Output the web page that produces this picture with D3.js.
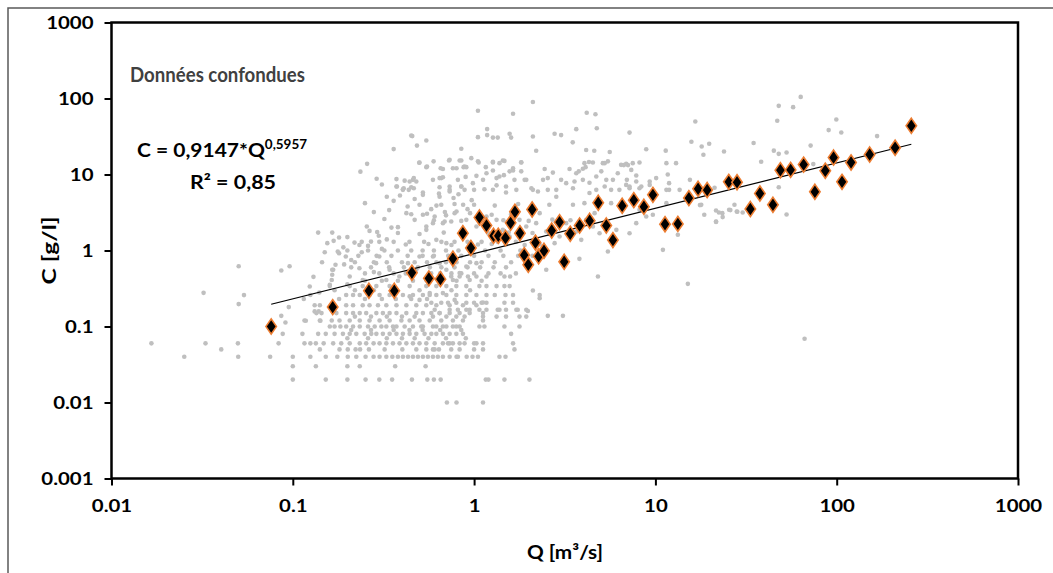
<!DOCTYPE html>
<html><head><meta charset="utf-8">
<script src="https://cdn.jsdelivr.net/npm/d3@7"></script>
<style>
body{margin:0;background:#fff;}
text{font-family:Lato,'Open Sans',sans-serif;font-weight:bold;}
</style>
</head><body>
<svg id="chart" width="1053" height="573"></svg>
<script>
// ---------- DATA ----------
const xTickValues = [0.01, 0.1, 1, 10, 100, 1000];
const xTickLabels = ["0.01", "0.1", "1", "10", "100", "1000"];
const yTickValues = [0.001, 0.01, 0.1, 1, 10, 100, 1000];
const yTickLabels = ["0.001", "0.01", "0.1", "1", "10", "100", "1000"];

const titleText = "Données confondues";
const equationMain = "C = 0,9147*Q";
const equationExp = "0,5957";
const r2Text = "R² = 0,85";
const xTitle = "Q [m³/s]";
const yTitle = "C [g/l]";

// Event data (diamonds)
const eventQ = [0.076,0.166,0.263,0.363,0.454,0.563,0.652,0.764,0.867,0.96,1.07,1.17,1.28,1.36,1.49,1.59,1.68,1.79,1.89,1.99,2.09,2.18,2.27,2.43,2.68,2.96,3.14,3.39,3.82,4.34,4.84,5.36,5.83,6.56,7.6,8.64,9.69,11.3,13.3,15.3,17.2,19.3,25.4,28.2,33.4,37.7,44.5,48.9,55.7,65.7,75.8,86.5,96.1,107,120,152,210,258];
const eventC = [0.10,0.18,0.295,0.295,0.51,0.43,0.42,0.78,1.69,1.08,2.72,2.13,1.56,1.56,1.46,2.31,3.23,1.69,0.87,0.65,3.46,1.27,0.84,0.99,1.83,2.36,0.71,1.66,2.13,2.46,4.24,2.13,1.37,3.87,4.6,3.76,5.4,2.22,2.24,4.89,6.48,6.24,8.0,7.9,3.51,5.62,3.99,11.4,11.5,13.5,5.92,11.2,16.7,8.0,14.4,18.3,22.5,43.7];

// Power-law trend line end points (C = 0.9147*Q^0.5957)
const trendQ = [0.076, 258];
const trendC = [0.196, 25.0];

// All measurements (grey) - rows of identical concentration
const greyRowC = [0.01,0.02,0.03,0.04,0.05,0.06,0.07,0.08,0.09,0.1];
const greyRowQ = [
  [0.708,0.80,1.12],
  [0.10,0.152,0.20,0.252,0.30,0.353,0.454,0.552,0.60,0.654,1.16,1.20,1.47,2.02],
  [0.10,0.134,0.20,0.234,0.367,0.54],
  [0.0252,0.05,0.075,0.10,0.125,0.152,0.176,0.201,0.224,0.252,0.279,0.301,0.328,0.354,0.38,0.405,0.432,0.46,0.49,0.522,0.556,0.593,0.631,0.673,0.733,0.80,0.814,0.91,0.98,1.05,1.38,1.49],
  [0.0403,0.141,0.181,0.201,0.222,0.235,0.263,0.321,0.402,0.48,0.545,0.593,0.606,0.64,0.748,0.832,1.0,1.12,1.67],
  [0.0166,0.033,0.0498,0.0835,0.116,0.125,0.134,0.148,0.167,0.185,0.206,0.234,0.254,0.279,0.301,0.328,0.357,0.388,0.423,0.46,0.5,0.545,0.606,0.673,0.718,0.733,0.764,0.832,0.886,1.0,1.03,1.12,1.64],
  [0.2,0.26,0.33,0.4,0.47,0.56,0.7,0.9],
  [0.088,0.113,0.138,0.152,0.17,0.189,0.206,0.224,0.249,0.271,0.289,0.314,0.342,0.373,0.405,0.441,0.48,0.533,0.581,0.619,0.673,0.733,0.798,0.868,1.6],
  [0.21,0.27,0.36,0.44,0.52,0.65,0.85],
  [0.16,0.17,0.183,0.197,0.215,0.234,0.26,0.283,0.308,0.328,0.357,0.373,0.414,0.46,0.511,0.522,0.593,0.619,0.673,0.703,0.764,0.798,0.832,1.07,1.14,1.47,1.78]
];

// All measurements (grey) - dense bands in the main cloud
const greyBandC = [0.12,0.135,0.15,0.166,0.19,0.205,0.23,0.26,0.3,0.34,0.4,0.455,0.5,0.6,0.7,0.85,1.0,1.3];
const greyBandQ = [
  [0.116,0.141,0.164,0.181,0.206,0.234,0.265,0.301,0.342,0.397,0.441,0.5,0.569,0.659,0.764,0.868,1.12],
  [0.22,0.27,0.33,0.4,0.47,0.593,0.703,0.798,0.886,1.12,1.33,1.5,1.78,1.94],
  [0.135,0.144,0.174,0.197,0.215,0.234,0.254,0.289,0.314,0.342,0.373,0.423,0.48,0.522,0.581,0.645,0.733,0.832,0.945,1.12],
  [0.606,0.733,0.814,0.906,1.07,1.17,1.35,1.5,1.74,1.94],
  [0.132,0.141,0.197,0.215,0.243,0.265,0.295,0.328,0.373,0.423,0.48,0.545,0.619,0.733,0.868,1.03],
  [0.581,0.659,0.718,0.798,0.906,1.0,1.1,1.17,1.47,1.64],
  [0.18,0.25,0.31,0.37,0.45,0.55],
  [0.197,0.215,0.234,0.265,0.301,0.342,0.405,0.46,0.522,0.569,0.619,0.703,0.798,0.906,1.03,1.17,1.3,1.49,1.64,2.3],
  [0.22,0.28,0.36,0.5,0.75,0.95],
  [0.16,0.206,0.243,0.289,0.342,0.441,0.545,0.619,0.703,0.798,0.906,1.07,1.17,1.33,1.47,1.57],
  [0.25,0.31,0.38,0.46,0.55,0.66,0.8,1.1],
  [0.748,0.832,0.925,1.03,1.17,1.47,1.58],
  [0.25,0.3,0.36,0.42,0.58,0.65,0.75,0.85,1.0,1.2,1.4,1.7],
  [0.21,0.27,0.34,0.41,0.49,0.57,0.66,0.78,0.92,1.08,1.28,1.5],
  [0.22,0.28,0.33,0.4,0.47,0.55,0.62,0.7,0.8,0.95,1.1,1.3,1.6,2.0],
  [0.23,0.29,0.35,0.43,0.52,0.6,0.72,0.85,1.0,1.2,1.45,1.75,2.1],
  [0.2,0.26,0.32,0.38,0.45,0.52,0.6,0.7,0.82,0.98,1.15,1.4,1.8,2.4],
  [0.24,0.3,0.36,0.44,0.53,0.66,0.78,0.92,1.1,1.35,1.7,2.2]
];

// All measurements (grey) - scattered points [Q, C]
const greyScatter = [
  [0.0322,0.277],[0.0503,0.62],[0.0503,0.197],[0.0538,0.259],[0.0864,0.546],[0.096,0.62],[0.0864,0.138],[0.0911,0.113],[0.095,0.18],[0.118,0.119],[0.124,0.336],[0.132,0.158],[0.139,0.158],[0.142,0.119],[0.16,0.354],[0.165,0.557],[0.165,0.48],[0.172,0.65],[0.18,0.92],
  [0.177,0.97],[0.196,0.834],[0.192,0.656],[0.167,0.557],[0.164,0.41],[0.206,0.455],[0.233,0.583],[0.243,0.41],[0.288,0.682],[0.3,0.834],[0.342,0.557],[0.328,0.41],[0.387,0.455],[0.432,0.682],[0.48,0.557],[0.5,0.834],[0.545,0.41],[0.593,0.834],[0.645,0.682],[0.703,0.557],[0.764,0.41],[0.832,0.505],[0.906,0.617],[0.945,0.41],[1.03,0.682],
  [2.5,0.557],[2.11,0.298],[2.3,0.236],[3.09,0.138],[2.55,0.138],[1.71,0.166],[1.98,0.16],[1.38,0.166],[1.12,0.207],[0.945,0.166],[0.781,0.224],[0.645,0.15],[0.673,0.275],[0.569,0.275],[0.5,0.224],[0.441,0.249],[4.82,0.455],[3.81,0.777],[15.1,0.364],[66.5,0.069],
  [0.13,0.45],[0.145,0.7],[0.15,0.95],[0.155,1.25],[0.19,1.1],[0.2,1.5],[0.21,0.75],[0.24,0.95],[0.26,1.15],[0.28,0.52],[0.31,1.05],[0.33,1.4],[0.14,0.28],[0.17,0.3],[0.2,0.36],[0.115,0.23],[0.125,0.26]
];
const greyUpper = [
  [0.138,1.72],[0.165,1.72],[0.18,1.48],[0.168,1.34],[0.219,1.27],[0.233,1.18],[0.256,2.07],[0.265,1.81],[0.292,1.75],[0.298,1.56],[0.27,1.31],[0.35,2.0],[0.38,2.03],[0.373,6.96],[0.409,6.6],[0.45,6.8],[0.48,8.1],[0.522,5.8],[0.47,4.75],[0.645,6.8],[0.733,5.98],[0.659,4.0],[0.85,6.96],[0.80,3.26],[0.748,2.41],[0.87,4.0],[0.522,2.95],[0.593,2.29],[0.688,2.41],[0.545,1.87],[0.619,1.38],[0.703,1.25],
  [0.423,3.1],[0.47,2.53],[0.545,2.07],[0.606,2.8],[0.673,2.29],[0.781,3.1],[0.906,2.53],[1.03,2.07],[1.17,2.8],[1.33,2.53],[1.44,1.87],[1.57,1.53],[1.78,2.53],[1.94,2.07],[2.2,2.29],[2.5,1.78],[2.78,1.25],[2.96,1.53],[3.22,2.29],[3.66,1.78],[3.9,1.38],[4.15,2.53],[4.52,2.07],[4.92,1.69],[5.47,0.97],[6.09,1.87],[7.2,1.69],[7.84,2.29],[9.68,2.95],[11,1.02],[13.3,1.61],
  [0.45,3.0],[0.55,3.05],[0.7,2.9],[0.95,3.1],[1.25,2.95],[1.6,3.0],[2.3,3.1],
  [0.5,4.0],[0.62,3.9],[0.78,4.1],[1.0,4.0],[1.3,3.9],[1.75,4.1],[2.6,4.0],
  [0.6,2.5],[0.85,2.45],[1.1,2.55],[1.45,2.5],[2.0,2.45],[2.7,2.55],[3.4,2.5],
  [0.38,1.7],[0.5,1.65],[0.68,1.72],[0.9,1.7],[1.2,1.68],[1.55,1.72],[2.1,1.7],[2.6,1.65],[3.3,1.72],
  [0.42,1.2],[0.56,1.22],[0.75,1.18],[1.05,1.2],[1.25,1.22],[1.5,1.2],[1.9,1.18],[2.3,1.2],
  [0.32,2.6],[0.34,3.4],[0.36,4.5],[0.39,5.3],[0.43,3.8],[0.58,3.5],[0.64,5.6],[0.69,3.2],[0.77,4.9],[0.82,5.5],[0.92,3.5],[0.97,4.6],[0.31,7.4],[0.33,5.1],[0.28,3.2],[0.25,4.2],
  [0.405,6.28],[0.46,8.5],[0.522,5.4],[0.593,8.5],[0.659,8.96],[0.733,6.96],[0.814,8.5],[0.886,6.28],[0.985,7.7],[1.12,8.5],[1.27,6.28],[1.38,9.4],[1.5,6.96],[1.67,8.5],[1.9,8.5],[2.11,6.28],[2.4,8.5],[2.55,6.28],[2.84,6.28],[3.22,7.7],[3.51,6.6],[3.66,10.4],[3.98,8.5],[4.33,5.7],[4.72,9.4],[5.25,6.96],[5.83,8.5],[6.33,6.28],[7.2,6.96],[7.84,8.1],[8.36,6.96],[10.1,8.96],[11.5,6.28],[13.6,6.28],[15.5,8.5],[17.9,3.99],[21.6,2.41],[23.4,3.1],[25.5,3.43],[28.1,3.26],
  [0.236,10.9],[0.257,13.8],[0.29,8.8],[0.36,21.6],[0.373,8.7],[0.414,8.3],[0.441,8.1],[0.465,8.96],[0.375,6.96],[0.405,6.4],[0.436,6.28],[0.465,6.6],[0.45,32.5],[0.5,14.4],[0.55,12.7],[0.645,8.96],[0.673,9.2],[0.727,15.3],[0.673,11.8],[0.764,12.1],[0.886,12.7],
  [0.832,15.3],[0.875,12.5],[0.898,9.3],[1.03,9.6],[1.06,14.4],[1.17,10.4],[1.27,14.7],[1.27,11.3],[1.33,8.96],[1.44,15.3],[1.46,9.8],[1.57,11],[1.64,11.3],[1.82,14.5],[1.82,11],[1.94,8.5],[2.07,6.6],[2.25,5.98],[1.71,6.28],[1.5,5.8],[1.33,7.2],[1.14,6.4],[1.0,6.28],[0.85,6.96],[0.733,6.28],[0.645,5.1],
  [0.498,14.3],[0.545,12.5],[0.598,14.9],[0.654,12.1],[0.733,15.6],[0.80,12.1],[0.85,15.3],[0.906,12.5],[0.965,16.4],[1.05,14.9],[1.16,12.5],[1.27,14.4],[1.38,14.1],[1.47,15.1],[1.64,12.1],[1.82,14.4]
];
const greyHigh = [
  [2.11,90],[1.05,69],[1.64,63],[4.18,65],[4.67,62],[0.456,32],[0.545,28],[0.484,24],[1.18,39.6],[1.18,33],[1.27,30.6],[1.35,30.6],[1.57,34.4],[1.6,30.6],[2.11,31.6],[2.78,34.4],[3.02,33],[3.66,39.5],[3.5,26.5],[4.75,40.6],[7.2,35.6],[0.85,21.8],[1.05,31],[2.2,20.5],[4.15,21],[4.6,20.5],[5.6,19.8],[8.9,21.5],[11.4,20.6],[16.6,49.9],[15.8,27],[18,23.4],[19.8,25.4],[18.4,18.2],[23.9,20.1],[11.5,14.1],[13,14.1],
  [2.45,11.8],[2.72,10.6],[3.36,11.8],[3.78,11],[4.12,12.5],[4.52,14.4],[5.13,14.1],[5.47,14.9],[6.47,13.4],[6.9,13.8],[7.5,14.1],[8.17,14.4],
  [4.06,14.1],[4.3,14.6],[5.25,14.1],[6.7,13.3],[7.06,13.3],[3.98,11.9],[5.03,11],[6.2,10.4],[7.36,11.5],[7.84,9.68],[11.7,10],
  [2.55,8.96],[3.02,8.5],[3.58,8.1],[4.33,7.8],[5.36,8.5],[6.96,8.5],[9.3,8.1],[11.9,7.7],
  [2.84,5.1],[4.72,6.28],[5.7,6.28],[6.9,7.3],[7.2,6.6],[8.17,6.6],[9.3,7.3],[11.9,6.28],
  [3.51,4],[4.06,4.2],[4.62,3.1],[5.7,4.2],[6.76,4],[8.17,3.43],[8.9,2.8],[11.5,4.2],[21.6,3.36],[27.3,4],
  [63.3,105],[47.9,80],[57.5,77],[47,51],[99.5,53],[90.3,38.4],[106,35.7],[167,32],[34.8,26],[38.3,14.7],[45,20.6],[47.9,18.7],[52.9,19.5],[71.8,24],[74.3,13.7],[47.9,6.8],[21.2,6.7],[17.6,3.96],[18.6,2.95],[21.6,2.38],[22.4,3.16],[23.5,2.75],[25.9,3.4],[28.3,3.23],[30.3,3.16],[52.9,2.97]
];

// ---------- BUILD ----------
const svg = d3.select("#chart");
const SX = 1.2; // horizontal stretch of tick lettering

const x = d3.scaleLog().domain([0.01, 1000]).range([111.5, 1018]);
const y = d3.scaleLog().domain([0.001, 1000]).range([478.5, 22.5]);

// outer chart border
svg.append("path").attr("d", "M8,573V8H1053").attr("fill", "none").attr("stroke", "#595959").attr("stroke-width", 1.5);

const greyPts = [];
greyRowC.forEach((c, i) => greyRowQ[i].forEach(q => greyPts.push([q, c])));
greyBandC.forEach((c, i) => greyBandQ[i].forEach(q => greyPts.push([q, c])));
greyScatter.concat(greyUpper, greyHigh).forEach(p => greyPts.push(p));

svg.append("g").selectAll("circle").data(greyPts).join("circle")
  .attr("cx", d => x(d[0])).attr("cy", d => y(d[1])).attr("r", 2.3).attr("fill", "#bfbfbf");

// trend line
svg.append("path")
  .datum(trendQ.map((q, i) => [q, trendC[i]]))
  .attr("d", d3.line().x(d => x(d[0])).y(d => y(d[1])))
  .attr("fill", "none").attr("stroke", "#000").attr("stroke-width", 1.2);

// diamonds
const diamond = d3.symbol().type(d3.symbolDiamond).size(66);
svg.append("g").selectAll("path").data(eventQ.map((q, i) => [q, eventC[i]])).join("path")
  .attr("d", diamond)
  .attr("transform", d => `translate(${x(d[0])},${y(d[1])}) scale(1.2,1)`)
  .attr("fill", "#000").attr("stroke", "#ed7d31").attr("stroke-width", 1.4);

// frame
svg.append("rect").attr("x", 111.5).attr("y", 22.5).attr("width", 1018 - 111.5).attr("height", 478.5 - 22.5)
  .attr("fill", "none").attr("stroke", "#000").attr("stroke-width", 2.5);

// axes
const gy = svg.append("g").attr("transform", "translate(111.5,0)")
  .call(d3.axisLeft(y).tickValues(yTickValues).tickSize(7).tickFormat((d, i) => yTickLabels[i]));
gy.select(".domain").remove();
gy.selectAll(".tick line").attr("stroke", "#000").attr("stroke-width", 2);
gy.selectAll(".tick text").attr("x", null).attr("dy", null)
  .attr("transform", "translate(-18,6) scale(" + SX + ",1)")
  .attr("text-anchor", "end").attr("font-size", 17).attr("fill", "#000")
  .style("font-family", "Lato").style("font-weight", "bold");

const gx = svg.append("g").attr("transform", "translate(0,478.5)")
  .call(d3.axisBottom(x).tickValues(xTickValues).tickSize(7).tickFormat((d, i) => xTickLabels[i]));
gx.select(".domain").remove();
gx.selectAll(".tick line").attr("stroke", "#000").attr("stroke-width", 2);
gx.selectAll(".tick text").attr("y", null).attr("dy", null)
  .attr("transform", "translate(0,33) scale(" + SX + ",1)")
  .attr("text-anchor", "middle").attr("font-size", 17).attr("fill", "#000")
  .style("font-family", "Lato").style("font-weight", "bold");

// texts
function label(xp, yp, txt, size, anchor, fill, len) {
  const t = svg.append("text").attr("x", xp).attr("y", yp)
    .attr("text-anchor", anchor).attr("font-size", size).attr("fill", fill).text(txt);
  if (len) t.attr("textLength", len).attr("lengthAdjust", "spacingAndGlyphs");
  return t;
}
label(130, 81.5, titleText, 20, "start", "#404040", 175);
const eq = label(137, 157, equationMain, 19.5, "start", "#000");
eq.append("tspan").attr("font-size", 12.5).attr("dy", -8).text(equationExp);
eq.attr("textLength", 170).attr("lengthAdjust", "spacingAndGlyphs");
label(190, 189, r2Text, 19.5, "start", "#000", 86);

label(565, 559, xTitle, 19, "middle", "#000", 76);
svg.append("text").attr("transform", "translate(56,250.5) rotate(-90)")
  .attr("text-anchor", "middle").attr("font-size", 19).attr("fill", "#000")
  .attr("textLength", 68).attr("lengthAdjust", "spacingAndGlyphs").text(yTitle);
</script>
</body></html>
